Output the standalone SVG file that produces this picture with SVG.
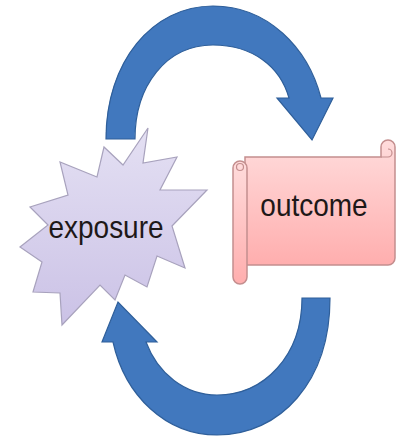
<svg xmlns="http://www.w3.org/2000/svg" width="399" height="441" viewBox="0 0 399 441">
<defs>
<linearGradient id="starG" x1="0" y1="0" x2="0" y2="1">
<stop offset="0" stop-color="#e4e0f3"/>
<stop offset="1" stop-color="#cbc2e6"/>
</linearGradient>
<linearGradient id="scrollG" x1="0" y1="0" x2="0" y2="1">
<stop offset="0" stop-color="#ffdcdc"/>
<stop offset="1" stop-color="#ffaeae"/>
</linearGradient>
<style>
.arrow{fill:#4178be;stroke:#2f5f9a;stroke-width:1.2;stroke-linejoin:miter}
.lbl{font-family:"Liberation Sans",Arial,sans-serif;font-size:28px;fill:#1e1818;text-anchor:middle}
.scroll{fill:url(#scrollG);stroke:#c48e8e;stroke-width:1.5}
</style>
</defs>
<rect width="399" height="441" fill="#ffffff"/>
<g id="connectors">
<path class="arrow" d="M106,139 C106,62 152,6 213,6 C268,6 308,48 321,98 L333,98 L312,140 L277,98 L289,98 C280,66 252,45 213,45 C166,45 135,86 135,139 Z"/>
<path class="arrow" d="M330,298 C330,382 280,435 217,435 C166,435 125,396 113,342 L102,342 L118,302 L157,342 L146,342 C158,374 185,395 217,395 C264,395 302,356 302,298 Z"/>
</g>
<g id="exposure">
<polygon points="148,128 143,163 177,157 160,190 207,190 172,226 185,268 157,256 147,287 125,275 115,300 100,285 62,325 60,293 33,292 42,262 20,247 48,225 30,207 68,195 60,162 97,177 104,147 123,165" fill="url(#starG)" stroke="#a8a2bd" stroke-width="1.2" stroke-linejoin="miter"/>
<text class="lbl" transform="translate(106,238) scale(1,1.12)" x="0" y="0">exposure</text>
</g>
<g id="outcome">
<path class="scroll" d="M245,157 L381,157 L381,147 A7,7 0 0 1 395,147 L395,258 A7,7 0 0 1 388,265 L245,265 Z"/>
<path d="M381,157 L388,157 A4,4 0 0 0 388,149" fill="none" stroke="#c48e8e" stroke-width="1.2"/>
<rect class="scroll" x="233" y="161" width="14" height="123" rx="7"/>
<circle cx="240" cy="167" r="3.5" fill="none" stroke="#c48e8e" stroke-width="1.2"/>
<text class="lbl" transform="translate(314,216) scale(1,1.12)" x="0" y="0">outcome</text>
</g>
</svg>
